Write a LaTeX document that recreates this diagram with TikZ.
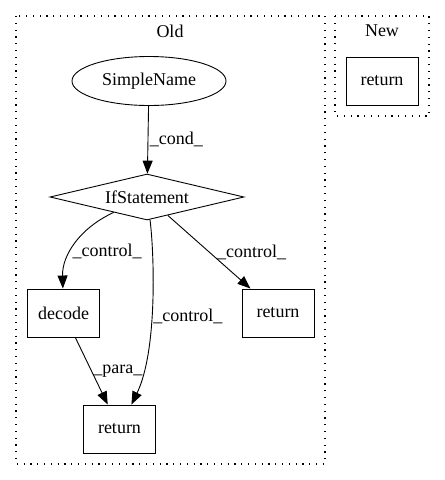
\documentclass[tikz,border=0pt]{standalone}
\usepackage{fontspec}
\setmainfont{Liberation Serif}
\usetikzlibrary{shapes.geometric,arrows.meta}
\tikzset{
    box/.style={draw, rectangle, line width=0.9pt, minimum width=72pt, minimum height=48pt, inner sep=0pt},
    edge/.style={draw, line width=0.9pt, -{Triangle[length=13pt, width=10pt]}},
    lbl/.style={inner sep=1.5pt},
    cluster/.style={draw, line width=1.2pt, dash pattern=on 1.2pt off 5.6pt},
}
\begin{document}
\begin{tikzpicture}[x=1pt, y=-1pt, font=\fontsize{18}{20}\selectfont]
    \useasboundingbox (0,0) rectangle (445,480);

    \draw[cluster] (16,16) rectangle (325,464);
    \draw[cluster] (335,16) rectangle (429,116);
    \node (old) at (170,31) {Old};
    \node (new) at (382,31) {New};

    \node[draw, ellipse, line width=0.9pt, minimum width=154pt, minimum height=49pt, inner sep=0pt] (sname) at (149,81) {SimpleName};
    \node[draw, diamond, line width=0.9pt, aspect=4.2, minimum width=194pt, minimum height=46pt, inner sep=0pt] (ifst) at (147,197) {IfStatement};
    \node[box] (decode) at (63.5,313) {decode};
    \node[box] (retr) at (278,313) {return};
    \node[box] (retb) at (119.5,429) {return};
    \node[box] (retnew) at (382,81) {return};

    \draw[edge] (sname) -- node[midway, right, lbl]{\_cond\_} (ifst);
    \draw[edge] (ifst) .. controls (80,228) and (62,255) .. node[pos=0.6, right, lbl]{\_control\_} (decode);
    \draw[edge] (ifst) .. controls (154,250) and (158,350) .. node[pos=0.56, right, lbl]{\_control\_} (retb);
    \draw[edge] (ifst) -- node[midway, right, lbl, xshift=6pt]{\_control\_} (retr);
    \draw[edge] (decode) -- node[midway, right, lbl]{\_para\_} (retb);
\end{tikzpicture}
\end{document}
